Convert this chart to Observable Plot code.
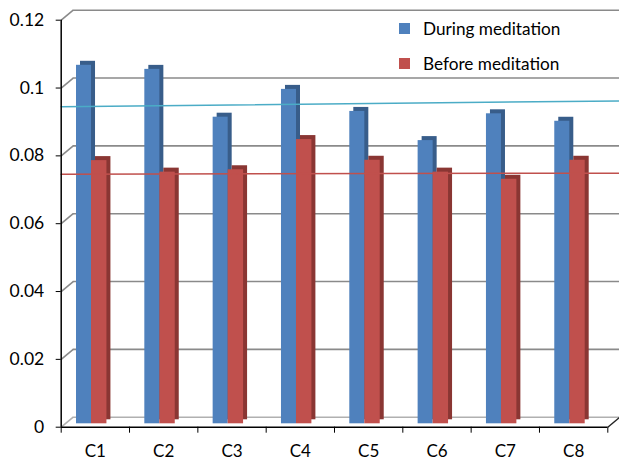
<!DOCTYPE html>
<html><head><meta charset="utf-8">
<script src="https://cdn.jsdelivr.net/npm/d3@7"></script>
<script src="https://cdn.jsdelivr.net/npm/@observablehq/plot@0.6"></script>
<style>
body{margin:0;background:#fff;}
#wrap{position:relative;width:619px;height:463px;font-family:Lato,"Open Sans",sans-serif;color:#000;}
#wrap svg{position:absolute;left:0;top:0;}
.li{position:absolute;left:399px;height:20px;display:flex;align-items:center;font-size:17.2px;white-space:nowrap;}
.sw{width:11px;height:11px;margin-right:13px;}
</style>
</head><body>
<div id="wrap"></div>
<script>
const categories = ["C1","C2","C3","C4","C5","C6","C7","C8"];
const during = [0.1057,0.1045,0.0904,0.0986,0.0921,0.0835,0.0914,0.0892];
const before = [0.0776,0.0742,0.0749,0.0838,0.0777,0.0742,0.0721,0.0777];
const yTicks = [0,0.02,0.04,0.06,0.08,0.1,0.12];
const yTickLabels = ["0","0.02","0.04","0.06","0.08","0.1","0.12"];
const seriesNames = ["During meditation","Before meditation"];
const trendDuring = [0.0945,0.0962];
const trendBefore = [0.0746,0.0749];

const colors = {during:"#4f81bd", duringDark:"#385d8a", before:"#c0504d", beforeDark:"#8a3633",
  trendDuring:"#4bacc6", trendBefore:"#c0504d", grid:"#8a8a8a"};

const W=619,H=463, mL=60.7, mR=11.7, mT=19.7, mB=36.3;
const innerW=W-mL-mR, innerH=H-mT-mB;
const nCat=categories.length;
const depthX = 12/(innerW/nCat);
const depthY = 10/(innerH/0.12);
const baseDy = -3.4;

const rows = categories.map((c,i)=>({i:i+1, c, during:during[i], before:before[i]}));
const bounds = d3.range(nCat+1).map(k=>k+0.5);
const trend = (vals, key) => [{x:0.5, y:vals[0], k:key},{x:nCat+0.5+depthX, y:vals[1], k:key}];

const bar = (key, fill, inL, inR, extra={}) => Plot.rect(rows, {
  x1:d=>d.i-0.5, x2:d=>d.i+0.5, y1:()=>0, y2:key, insetLeft:inL, insetRight:inR,
  fill, dy:baseDy, ...extra});

const chart = Plot.plot({
  width:W, height:H, marginLeft:mL, marginRight:mR, marginTop:mT, marginBottom:mB,
  style:{fontFamily:"Lato, 'Open Sans', sans-serif", fontSize:"17.5px", color:"#000", background:"transparent"},
  x:{type:"linear", domain:[0.5,nCat+0.5], axis:null},
  y:{domain:[0,0.12], axis:null},
  marks:[
    Plot.ruleY(yTicks, {y:d=>d+depthY, x1:0.5+depthX, x2:nCat+0.5+depthX, stroke:d=>d===0?"#b0b0b0":colors.grid, strokeWidth:1.6}),
    Plot.link(yTicks, {x1:0.5, x2:0.5+depthX, y1:d=>d, y2:d=>d+depthY, stroke:d=>d===0?"#b0b0b0":colors.grid, strokeWidth:1.6}),
    Plot.link([0], {x1:nCat+0.5, x2:nCat+0.5+depthX, y1:d=>d, y2:d=>d+depthY, stroke:"#222", strokeWidth:1.4}),
    bar("during", colors.duringDark, 15.3, 38, {dx:4, dy:baseDy-4}),
    bar("during", colors.during, 15.3, 38),
    bar("before", colors.beforeDark, 30.3, 22.6, {dx:4, dy:baseDy-4}),
    bar("before", colors.before, 30.3, 22.6),
    Plot.line(trend(trendDuring,"d"), {x:"x", y:"y", stroke:colors.trendDuring, strokeWidth:1.5}),
    Plot.line(trend(trendBefore,"b"), {x:"x", y:"y", stroke:colors.trendBefore, strokeWidth:1.5}),
    Plot.ruleX([0.5], {y1:()=>0, y2:()=>0.12, stroke:"#000", strokeWidth:1.5}),
    Plot.ruleY([0], {x1:0.5, x2:nCat+0.5, stroke:"#000", strokeWidth:1.5}),
    Plot.axisY({ticks:yTicks, tickSize:5, tickPadding:12, tickFormat:d=>yTickLabels[yTicks.indexOf(d)], label:null, stroke:"#000", fill:"#000", fontSize:17.5}),
    Plot.axisX({ticks:bounds, tickSize:6, tickFormat:()=>"", label:null, stroke:"#000"}),
    Plot.axisX({ticks:d3.range(1,nCat+1), tickSize:0, tickPadding:18, tickFormat:d=>categories[d-1], label:null, fill:"#000", fontSize:17})
  ]
});
const wrap = document.getElementById("wrap");
wrap.appendChild(chart);
const legendColors=[colors.during, colors.before];
seriesNames.forEach((name,k)=>{
  const el=document.createElement("div");
  el.className="li";
  el.style.top=(28+35*k-10)+"px";
  el.innerHTML=`<span class="sw" style="background:${legendColors[k]}"></span><span>${name}</span>`;
  wrap.appendChild(el);
});
</script>
</body></html>
